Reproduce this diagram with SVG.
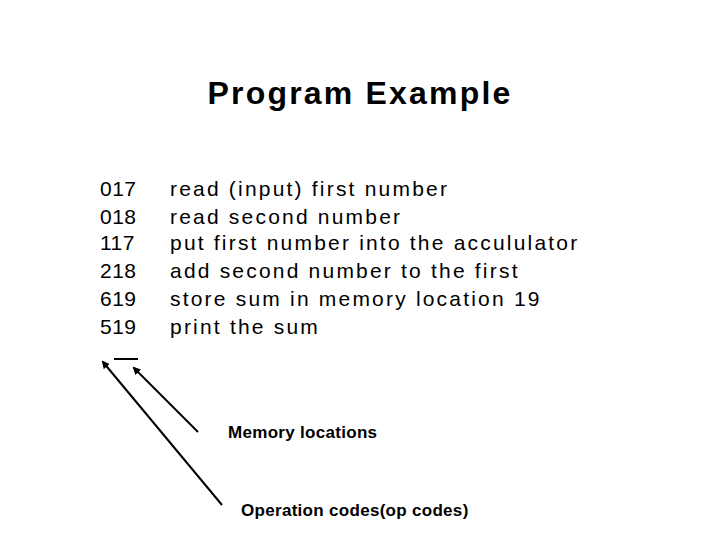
<svg xmlns="http://www.w3.org/2000/svg" width="720" height="540" viewBox="0 0 720 540">
<style>
text{font-family:"Liberation Sans",Arial,sans-serif;font-weight:bold;fill:#000}
.m{font-size:21px;font-weight:normal;letter-spacing:2.2px}
.n{font-size:21px;font-weight:normal;letter-spacing:0.5px}
.s{font-size:17px;letter-spacing:0.3px}
.c{stroke:#000;stroke-width:2;fill:none}
</style>
<defs><marker id="a" markerWidth="8" markerHeight="8" refX="6" refY="4" orient="auto" markerUnits="userSpaceOnUse"><path d="M0,0 L8,4 L0,8z"/></marker></defs>
<rect width="720" height="540" fill="#fff"/>
<g id="title"><text x="360" y="104" font-size="32" letter-spacing="2.2" text-anchor="middle">Program Example</text></g>
<g id="codes"><text class="n" x="100" y="196">017</text><text class="n" x="100" y="224">018</text><text class="n" x="100" y="250">117</text><text class="n" x="100" y="278">218</text><text class="n" x="100" y="306">619</text><text class="n" x="100" y="334">519</text></g>
<g id="desc"><text class="m" x="170" y="196">read (input) first number</text><text class="m" x="170" y="224">read second number</text><text class="m" x="170" y="250">put first number into the accululator</text><text class="m" x="170" y="278">add second number to the first</text><text class="m" x="170" y="306">store sum in memory location 19</text><text class="m" x="170" y="334">print the sum</text></g>
<g id="mem"><text class="s" x="228" y="438">Memory locations</text></g>
<g id="op"><text class="s" x="241" y="516">Operation codes(op codes)</text></g>
<g id="connectors">
<line class="c" x1="114" y1="359" x2="138" y2="359"/>
<line class="c" x1="198" y1="432" x2="134" y2="368" marker-end="url(#a)"/>
<line class="c" x1="222" y1="505" x2="103" y2="362" marker-end="url(#a)"/>
</g>
</svg>
